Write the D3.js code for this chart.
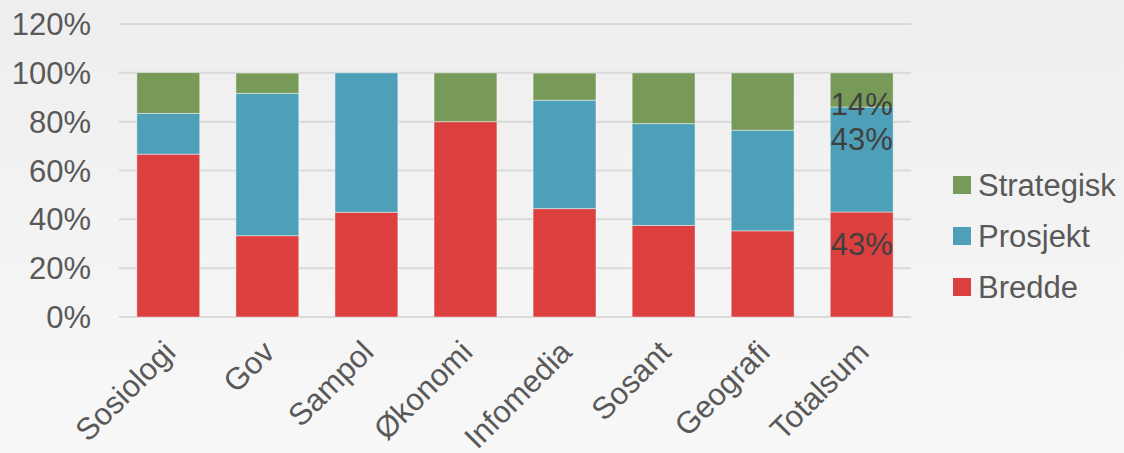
<!DOCTYPE html>
<html>
<head>
<meta charset="utf-8">
<script src="https://cdn.jsdelivr.net/npm/d3@7"></script>
<style>
  body { margin: 0; }
  svg { display: block; font-family: "Liberation Sans", Arial, sans-serif; }
</style>
</head>
<body>
<div id="chart"></div>
<script>

// Data (shares per department)
var categories = ["Sosiologi", "Gov", "Sampol", "Økonomi", "Infomedia", "Sosant", "Geografi", "Totalsum"];
var bredde     = [0.667, 0.333, 0.429, 0.80, 0.444, 0.375, 0.353, 0.43];
var prosjekt   = [0.167, 0.583, 0.571, 0.00, 0.444, 0.417, 0.412, 0.43];
var strategisk = [0.167, 0.083, 0.000, 0.20, 0.111, 0.208, 0.235, 0.14];
var seriesNames = ["Bredde", "Prosjekt", "Strategisk"];
var yTicks = [0, 0.2, 0.4, 0.6, 0.8, 1.0, 1.2];

var width = 1124,
    height = 453;

var margin = { left: 119, right: 213, top: 24, bottom: 136 };

var colors = { "Bredde": "#db3f3e", "Prosjekt": "#4ea0b8", "Strategisk": "#789a59" };

var svg = d3.select("#chart")
    .append("svg")
        .attr("width", width)
        .attr("height", height);

// background
var defs = svg.append("defs");
var grad = defs.append("linearGradient")
    .attr("id", "bg")
    .attr("x1", 0).attr("y1", 0).attr("x2", 0).attr("y2", 1);
grad.append("stop").attr("offset", "0%").attr("stop-color", "#eeeeee");
grad.append("stop").attr("offset", "100%").attr("stop-color", "#f8f8f8");

svg.append("rect")
    .attr("width", width)
    .attr("height", height)
    .attr("fill", "url(#bg)");

// Scales
var x = d3.scaleBand()
    .domain(categories)
    .range([margin.left, width - margin.right])
    .paddingInner(0.365)
    .paddingOuter(0.18);

var y = d3.scaleLinear()
    .domain([0, 1.2])
    .range([height - margin.bottom, margin.top]);

// Gridlines
svg.append("g")
    .selectAll("line")
    .data(yTicks)
    .enter()
    .append("line")
        .attr("x1", margin.left)
        .attr("x2", width - margin.right)
        .attr("y1", d => y(d))
        .attr("y2", d => y(d))
        .attr("stroke", "#d9d9d9")
        .attr("stroke-width", 2);

// Y labels
svg.append("g")
    .selectAll("text")
    .data(yTicks)
    .enter()
    .append("text")
        .attr("x", 91)
        .attr("y", d => y(d))
        .attr("dy", "0.36em")
        .attr("text-anchor", "end")
        .style("font-size", "31px")
        .style("fill", "#595959")
        .text(d => Math.round(d * 100) + "%");

// Stack
var rows = categories.map((c, i) => ({
    cat: c,
    Bredde: bredde[i],
    Prosjekt: prosjekt[i],
    Strategisk: strategisk[i]
}));

var stacked = d3.stack().keys(seriesNames)(rows);

var layers = svg.append("g")
    .selectAll("g")
    .data(stacked)
    .enter()
    .append("g")
        .attr("fill", d => colors[d.key]);

layers.selectAll("rect")
    .data(d => d.filter(s => s[1] - s[0] > 0))
    .enter()
    .append("rect")
        .attr("x", d => x(d.data.cat))
        .attr("y", d => y(d[1]))
        .attr("width", x.bandwidth())
        .attr("height", d => y(d[0]) - y(d[1]))
        .attr("stroke", "#ffffff")
        .attr("stroke-opacity", 0.45)
        .attr("stroke-width", 1);

// Data labels on Totalsum only
var labelShift = { "Bredde": -21, "Prosjekt": -21, "Strategisk": 14 };
var last = categories.length - 1;

svg.append("g")
    .selectAll("text")
    .data(stacked)
    .enter()
    .append("text")
        .attr("x", x(categories[last]) + x.bandwidth() / 2)
        .attr("y", d => (y(d[last][0]) + y(d[last][1])) / 2 + labelShift[d.key])
        .attr("dy", "0.36em")
        .attr("text-anchor", "middle")
        .style("font-size", "31px")
        .style("fill", "#404040")
        .text(d => Math.round((d[last][1] - d[last][0]) * 100) + "%");

// X labels (rotated)
svg.append("g")
    .selectAll("text")
    .data(categories)
    .enter()
    .append("text")
        .attr("text-anchor", "end")
        .attr("transform", d => "translate(" + (x(d) + x.bandwidth() / 2 + 9) + "," + 354 + ")rotate(-45)")
        .style("font-size", "31px")
        .style("fill", "#595959")
        .text(d => d);

// Legend
var legendItems = ["Strategisk", "Prosjekt", "Bredde"];

var legend = svg.append("g")
    .selectAll("g")
    .data(legendItems)
    .enter()
    .append("g")
        .attr("transform", (d, i) => "translate(953," + (185 + i * 51) + ")");

legend.append("rect")
    .attr("x", 0)
    .attr("y", -9)
    .attr("width", 18)
    .attr("height", 18)
    .attr("fill", d => colors[d]);

legend.append("text")
    .attr("x", 25)
    .attr("y", 0)
    .attr("dy", "0.36em")
    .style("font-size", "31px")
    .style("fill", "#595959")
    .text(d => d);

</script>
</body>
</html>
